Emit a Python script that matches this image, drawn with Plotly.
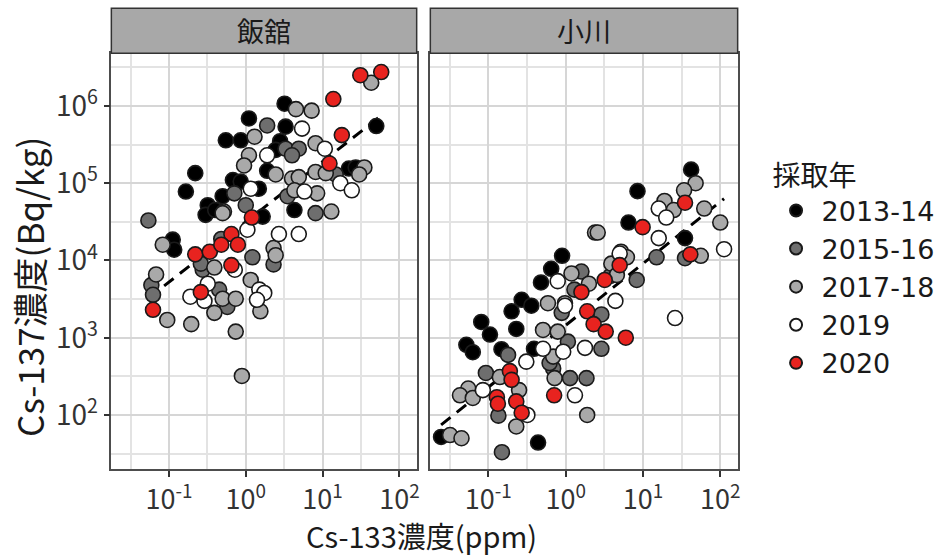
import math
import plotly.graph_objects as go

# ---------------------------------------------------------------
# Cs-133 (ppm) vs Cs-137 (Bq/kg), two sites, grouped by sampling year
# ---------------------------------------------------------------
years = ["2013-14", "2015-16", "2017-18", "2019", "2020"]
year_colors = ["#000000", "#6e6e6e", "#a9a9a9", "#ffffff", "#e8231f"]
sites = ["飯舘", "小川"]

# --- 飯舘 ---
iitate_1314_cs133 = [3.2, 1.1, 3.3, 50, 0.55, 0.86, 2.8, 2.45, 0.22, 1.9, 22, 27,
                     0.166, 0.68, 0.86, 0.50, 4.3, 0.32, 0.30, 1.66, 0.112, 0.117, 1.48, 0.40]
iitate_1314_cs137 = [1.07e6, 6.9e5, 5.4e5, 5.5e5, 3.6e5, 3.6e5, 3.5e5, 2.7e5, 1.35e5, 1.45e5, 1.55e5, 1.6e5,
                     7.8e4, 1.1e5, 1.05e5, 6.8e4, 4.5e4, 5.2e4, 3.9e4, 3.7e4, 1.86e4, 1.38e4, 8.5e4, 4.5e4]

iitate_1516_cs133 = [1.9, 3.3, 4.9, 4.0, 14.8, 0.71, 3.5, 8.1, 1.0, 0.054, 1.22, 2.3,
                     0.275, 0.059, 0.062, 0.575, 0.45, 0.48, 0.26]
iitate_1516_cs137 = [5.6e5, 2.8e5, 2.8e5, 2.3e5, 1.3e5, 7.4e4, 6.8e4, 4.1e4, 5.2e4, 3.3e4, 1.1e4, 8.9e3,
                     7.6e3, 4.8e3, 3.6e3, 2.5e3, 4.2e3, 1.9e4, 9.1e3]

iitate_1718_cs133 = [43, 4.5, 7.2, 1.3, 8.1, 1.1, 0.95, 2.45, 4.0, 4.9, 8.1, 11, 35, 30,
                     4.3, 8.5, 13, 0.52, 0.50, 0.083, 2.3, 0.39, 0.068, 0.095, 0.195, 0.39,
                     0.50, 0.74, 1.16, 1.55, 0.74, 0.89, 2.45]
iitate_1718_cs137 = [2.0e6, 9.1e5, 8.7e5, 4.0e5, 3.3e5, 2.3e5, 1.7e5, 1.3e5, 1.15e5, 1.2e5, 1.4e5, 1.35e5, 1.6e5, 1.3e5,
                     8.1e4, 7.4e4, 4.3e4, 4.3e4, 4.1e4, 1.6e4, 1.45e4, 8.1e3, 6.6e3, 1.7e3, 1.5e3, 2.1e3,
                     3.2e3, 3.2e3, 5.6e3, 2.2e3, 1.2e3, 3.2e2, 1.17e4]

iitate_2019_cs133 = [5.4, 10.7, 1.9, 17, 24, 1.16, 5.8, 1.05, 2.7, 4.9, 0.19, 0.29, 1.5, 1.74,
                     1.4, 0.32, 0.72]
iitate_2019_cs137 = [5.1e5, 2.8e5, 2.3e5, 1.0e5, 8.1e4, 8.5e4, 7.8e4, 2.5e4, 2.2e4, 2.2e4, 3.4e3, 3.0e3, 4.2e3, 3.8e3,
                     3.1e3, 5.0e3, 7.6e3]

iitate_2020_cs133 = [31, 58, 13.8, 17.8, 12.3, 1.2, 0.65, 0.22, 0.34, 0.48, 0.79, 0.65, 0.062, 0.26]
iitate_2020_cs137 = [2.5e6, 2.75e6, 1.23e6, 4.2e5, 1.8e5, 3.6e4, 2.2e4, 1.2e4, 1.3e4, 1.6e4, 1.6e4, 8.7e3, 2.3e3, 3.9e3]

# --- 小川 ---
ogawa_1314_cs133 = [42, 8.5, 6.5, 35, 0.90, 0.65, 0.48, 0.27, 0.36, 0.20, 0.23, 0.081,
                    0.105, 0.052, 0.063, 0.148, 0.39, 0.44, 0.0245]
ogawa_1314_cs137 = [1.5e5, 7.9e4, 3.1e4, 1.95e4, 1.15e4, 7.8e3, 5.2e3, 3.1e3, 2.6e3, 2.2e3, 1.3e3, 1.6e3,
                    1.1e3, 8.1e2, 6.5e2, 7.1e2, 7.2e2, 44, 52]

ogawa_1516_cs133 = [15, 35, 1.6, 8.3, 1.3, 0.18, 0.69, 1.14, 1.86, 0.15, 0.135, 2.9, 2.9,
                    0.093, 0.62, 0.89, 1.07, 3.8]
ogawa_1516_cs137 = [1.1e4, 1.07e4, 7.2e3, 5.6e3, 4.2e3, 6.0e2, 4.0e2, 3.0e2, 3.0e2, 33, 98, 7.2e2, 2.0e3,
                    3.5e2, 4.7e2, 2.1e3, 8.9e2, 6.3e3]

ogawa_1718_cs133 = [48, 34, 19, 25, 62, 100, 2.4, 2.6, 56, 1.19, 2.0, 5.2, 6.2, 3.9, 4.6,
                    0.59, 0.98, 0.51, 0.79, 0.69, 0.72, 1.9, 0.141, 0.055, 0.043, 0.063,
                    0.23, 0.25, 0.032, 0.045]
ogawa_1718_cs137 = [1.0e5, 8.1e4, 5.9e4, 4.5e4, 4.7e4, 3.1e4, 2.3e4, 2.3e4, 1.15e4, 6.8e3, 5.0e3, 1.3e4, 1.1e4, 9.1e3, 6.5e3,
                    2.8e3, 2.8e3, 1.26e3, 1.2e3, 5.7e2, 3.0e2, 1.0e2, 3.1e2, 2.2e2, 1.8e2, 1.66e2,
                    71, 2.1e2, 55, 50]

ogawa_2019_cs133 = [16, 20, 16, 112, 0.79, 5.0, 4.4, 0.98, 0.51, 0.93, 1.78, 0.31, 1.32,
                    0.085, 0.32, 26]
ogawa_2019_cs137 = [4.7e4, 3.6e4, 1.95e4, 1.4e4, 5.4e3, 1.23e4, 3.0e3, 2.6e3, 7.2e2, 6.6e2, 7.4e2, 4.9e2, 1.8e2,
                    2.1e2, 1.0e2, 1.8e3]

ogawa_2020_cs133 = [35, 9.9, 41, 5.0, 3.2, 1.6, 1.9, 2.3, 3.3, 6.0, 0.71, 0.19, 0.20,
                    0.129, 0.133, 0.23, 0.27]
ogawa_2020_cs137 = [5.6e4, 2.7e4, 1.2e4, 8.7e3, 5.6e3, 3.9e3, 2.2e3, 1.5e3, 1.2e3, 1.0e3, 1.8e2, 3.7e2, 2.85e2,
                    1.7e2, 1.4e2, 1.5e2, 1.07e2]

# log-log linear fits (slope, intercept in log10 space)
iitate_fit = (0.78, 4.50)
ogawa_fit = (0.80, 3.16)

# axis ticks
x_tickvals = [0.1, 1, 10, 100]
x_ticktext = ["10<sup>-1</sup>", "10<sup>0</sup>", "10<sup>1</sup>", "10<sup>2</sup>"]
y_tickvals = [1e2, 1e3, 1e4, 1e5, 1e6]
y_ticktext = ["10<sup>2</sup>", "10<sup>3</sup>", "10<sup>4</sup>", "10<sup>5</sup>", "10<sup>6</sup>"]

panels = {
    "飯舘": [(iitate_1314_cs133, iitate_1314_cs137), (iitate_1516_cs133, iitate_1516_cs137),
            (iitate_1718_cs133, iitate_1718_cs137), (iitate_2019_cs133, iitate_2019_cs137),
            (iitate_2020_cs133, iitate_2020_cs137)],
    "小川": [(ogawa_1314_cs133, ogawa_1314_cs137), (ogawa_1516_cs133, ogawa_1516_cs137),
            (ogawa_1718_cs133, ogawa_1718_cs137), (ogawa_2019_cs133, ogawa_2019_cs137),
            (ogawa_2020_cs133, ogawa_2020_cs137)],
}
fits = {"飯舘": iitate_fit, "小川": ogawa_fit}

# ---------------------------------------------------------------
W, H = 949, 558
FONT = "Noto Sans CJK JP"
LEGEND_FONT = "DejaVu Sans, Noto Sans CJK JP"


def px_x(p):
    return p / W


def px_y(p):
    return 1 - p / H


x_domains = [(px_x(111.7), px_x(418.0)), (px_x(431.7), px_x(740.0))]
y_domain = (px_y(469.3), px_y(53.3))
strip_top = px_y(8.3)

fig = go.Figure()

for i, site in enumerate(sites):
    xa = "x" if i == 0 else "x2"
    ya = "y" if i == 0 else "y2"
    groups = panels[site]
    # regression line spans the site's Cs-133 range
    all_x = [v for g in groups for v in g[0]]
    lo, hi = min(all_x), max(all_x)
    slope, intercept = fits[site]
    fx = [lo, hi]
    fy = [10 ** (intercept + slope * math.log10(v)) for v in fx]
    fig.add_trace(go.Scatter(
        x=fx, y=fy, mode="lines", xaxis=xa, yaxis=ya, showlegend=False,
        line=dict(color="black", width=3, dash="12px,8px"), hoverinfo="skip"))
    for j, (yr, col) in enumerate(zip(years, year_colors)):
        gx, gy = groups[j]
        fig.add_trace(go.Scatter(
            x=gx, y=gy, mode="markers", xaxis=xa, yaxis=ya,
            name=yr, legendgroup=yr, showlegend=(i == 0),
            marker=dict(size=15, color=col, line=dict(color="#1a1a1a", width=1.6))))

minor_x = [10 ** (k + 0.5) for k in range(-2, 3)]
minor_y = [10 ** (k + 0.5) for k in range(1, 7)]

axis_common = dict(
    type="log", showline=True, mirror=True, linecolor="#4d4d4d", linewidth=1.5,
    showgrid=True, gridcolor="#d6d6d6", gridwidth=2, zeroline=False,
    tickfont=dict(family=FONT, size=27, color="#333333"),
)
minor_grid_x = dict(tickmode="array", tickvals=minor_x, showgrid=True,
                    gridcolor="#e3e3e3", gridwidth=1.5)
minor_grid_y = dict(tickmode="array", tickvals=minor_y, showgrid=True,
                    gridcolor="#e3e3e3", gridwidth=1.5)
tick_style = dict(ticks="outside", ticklen=6, tickwidth=1.5, tickcolor="#333333")

xrange = [-1.75, 2.225]
yrange = [1.297, 6.682]

fig.update_layout(
    xaxis=dict(axis_common, domain=x_domains[0], range=xrange, anchor="y",
               tickmode="array", tickvals=x_tickvals, ticktext=x_ticktext,
               minor=minor_grid_x, **tick_style),
    xaxis2=dict(axis_common, domain=x_domains[1], range=xrange, anchor="y2",
                tickmode="array", tickvals=x_tickvals, ticktext=x_ticktext,
                minor=minor_grid_x, **tick_style),
    yaxis=dict(axis_common, domain=y_domain, range=yrange, anchor="x",
               tickmode="array", tickvals=y_tickvals, ticktext=y_ticktext,
               tickfont=dict(family=FONT, size=28, color="#333333"),
               minor=minor_grid_y, **tick_style),
    yaxis2=dict(axis_common, domain=y_domain, range=yrange, anchor="x2",
                tickmode="array", tickvals=y_tickvals, showticklabels=False, ticks="",
                minor=minor_grid_y),
    width=W, height=H,
    margin=dict(l=0, r=0, t=0, b=0),
    paper_bgcolor="white", plot_bgcolor="white",
    font=dict(family=FONT, color="#1a1a1a"),
    legend=dict(
        title=dict(text="採取年", font=dict(family=FONT, size=28, color="#1a1a1a")),
        x=px_x(773), xanchor="left", y=px_y(150), yanchor="top",
        font=dict(family=LEGEND_FONT, size=27, color="#1a1a1a"),
        bgcolor="rgba(0,0,0,0)", tracegroupgap=0, itemsizing="constant",
        itemwidth=41,
    ),
)

# facet strips
shapes = []
annotations = []
for (d0, d1), site in zip(x_domains, sites):
    shapes.append(dict(type="rect", xref="paper", yref="paper",
                       x0=d0, x1=d1, y0=y_domain[1], y1=strip_top,
                       fillcolor="#a8a8a8", line=dict(color="#333333", width=1.5)))
    annotations.append(dict(text=site, xref="paper", yref="paper",
                            x=(d0 + d1) / 2, y=(y_domain[1] + strip_top) / 2,
                            showarrow=False, xanchor="center", yanchor="middle",
                            font=dict(family=FONT, size=27, color="#1a1a1a")))

# axis titles
annotations.append(dict(text="Cs-133濃度(ppm)", xref="paper", yref="paper",
                        x=px_x(423), y=px_y(535), showarrow=False,
                        xanchor="center", yanchor="middle", borderpad=0,
                        font=dict(family=FONT, size=29, color="#1a1a1a")))
annotations.append(dict(text="Cs-137濃度(Bq/kg)", xref="paper", yref="paper",
                        x=px_x(28), y=px_y(287), showarrow=False, textangle=-90,
                        xanchor="center", yanchor="middle",
                        font=dict(family=FONT, size=35, color="#1a1a1a")))

fig.update_layout(shapes=shapes, annotations=annotations)

fig.write_html("out.html")
